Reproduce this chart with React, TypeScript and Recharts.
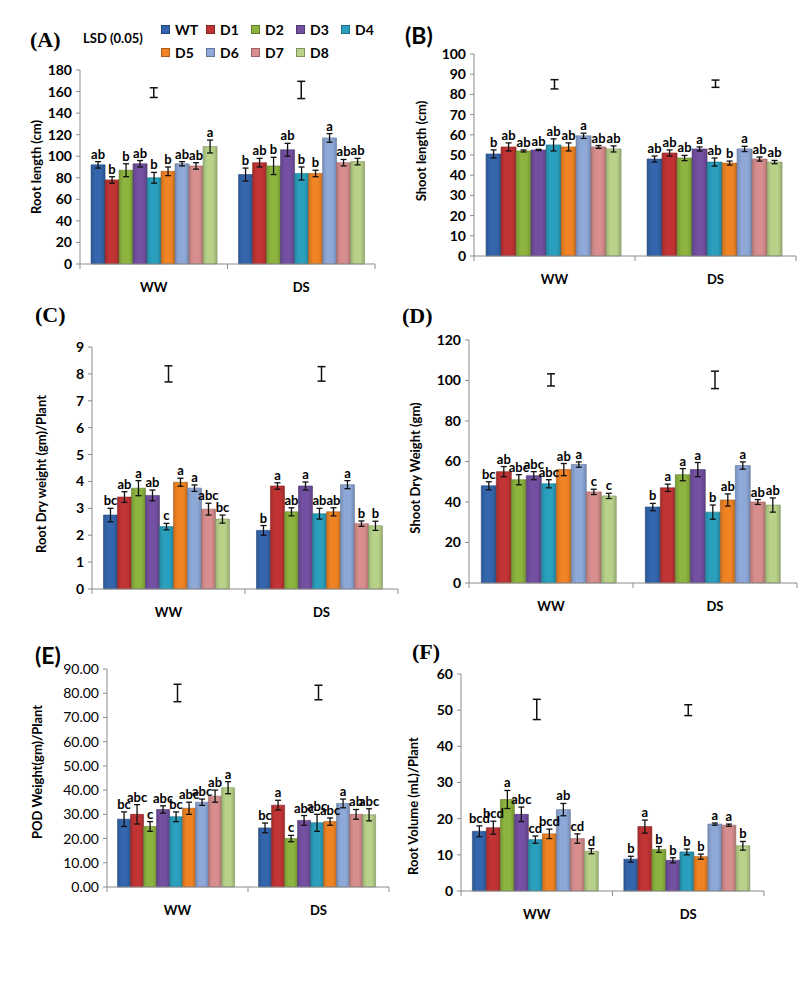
import React from 'react';
import { ComposedChart, Bar, Scatter, XAxis, YAxis, ErrorBar, LabelList, Legend } from 'recharts';

const FONT = "Lato, 'Open Sans', sans-serif";
const SERIF = "'Liberation Serif', 'Times New Roman', serif";

const groups = ['WW', 'DS'];
const series = ['WT', 'D1', 'D2', 'D3', 'D4', 'D5', 'D6', 'D7', 'D8'];
const colors = ['#3466ad', '#c23434', '#8cb43e', '#7350a2', '#2aa0be', '#f08424', '#8ea8d8', '#d88e8e', '#b8d28a'];

// (A) root length
const rootLenWW = [92, 78, 87, 93, 80, 86, 93, 91, 109];
const rootLenDS = [83, 94, 91, 106, 84, 84, 117, 94, 95];
const rootLenErrWW = [3, 3, 6, 3, 5, 4, 2, 3, 6];
const rootLenErrDS = [6, 4, 8, 6, 6, 3, 4, 3, 3];
const rootLenLetWW = ['ab', 'b', 'b', 'ab', 'b', 'b', 'ab', 'ab', 'a'];
const rootLenLetDS = ['b', 'ab', 'b', 'ab', 'b', 'b', 'a', 'ab', 'ab'];
const rootLenLsd = [159, 161.5];
const rootLenLsdErr = [4.5, 8];
const rootLenTicks = [0, 20, 40, 60, 80, 100, 120, 140, 160, 180];

// (B) shoot length
const shootLenWW = [50.5, 54, 52, 52.5, 55, 54, 59.5, 54, 53];
const shootLenDS = [48, 51, 48.5, 53, 46.5, 46, 53, 48, 46.5];
const shootLenErrWW = [2, 2, 0.5, 0.3, 3, 2, 1.3, 0.7, 1.5];
const shootLenErrDS = [1.5, 1.5, 1.3, 1, 2, 1, 1.3, 1, 0.8];
const shootLenLetWW = ['b', 'ab', 'ab', 'ab', 'ab', 'ab', 'a', 'ab', 'ab'];
const shootLenLetDS = ['ab', 'ab', 'ab', 'a', 'ab', 'b', 'a', 'ab', 'ab'];
const shootLenLsd = [85, 85.3];
const shootLenLsdErr = [2.3, 1.8];
const shootLenTicks = [0, 10, 20, 30, 40, 50, 60, 70, 80, 90, 100];

// (C) root dry weight
const rootDwWW = [2.75, 3.42, 3.75, 3.48, 2.32, 3.97, 3.75, 2.97, 2.6];
const rootDwDS = [2.18, 3.83, 2.87, 3.83, 2.8, 2.87, 3.88, 2.43, 2.35];
const rootDwErrWW = [0.25, 0.2, 0.28, 0.2, 0.12, 0.15, 0.12, 0.22, 0.15];
const rootDwErrDS = [0.18, 0.12, 0.15, 0.15, 0.2, 0.15, 0.15, 0.1, 0.17];
const rootDwLetWW = ['bc', 'ab', 'a', 'ab', 'c', 'a', 'a', 'abc', 'bc'];
const rootDwLetDS = ['b', 'a', 'ab', 'a', 'ab', 'ab', 'a', 'b', 'b'];
const rootDwLsd = [8.0, 8.0];
const rootDwLsdErr = [0.3, 0.27];
const rootDwTicks = [0, 1, 2, 3, 4, 5, 6, 7, 8, 9];

// (D) shoot dry weight
const shootDwWW = [48, 55, 51, 53, 49, 56, 58.5, 45, 43];
const shootDwDS = [37.5, 47, 53.5, 56, 35, 41, 58, 40, 38.5];
const shootDwErrWW = [2, 2.5, 2.5, 2, 2, 3, 1.3, 1.3, 1.3];
const shootDwErrDS = [1.8, 1.8, 3, 3.5, 3.5, 3, 1.8, 1.2, 3.5];
const shootDwLetWW = ['bc', 'ab', 'abc', 'abc', 'abc', 'ab', 'a', 'c', 'c'];
const shootDwLetDS = ['b', 'a', 'a', 'a', 'b', 'ab', 'a', 'ab', 'ab'];
const shootDwLsd = [100.3, 100.3];
const shootDwLsdErr = [3, 4.3];
const shootDwTicks = [0, 20, 40, 60, 80, 100, 120];

// (E) pod weight
const podWW = [28, 30, 25, 32, 29, 32.5, 35, 37.5, 41];
const podDS = [24.4, 33.8, 20, 27.5, 26.5, 27, 34.5, 30, 29.8];
const podErrWW = [3, 4, 2, 1.5, 2, 2.5, 1.3, 2.5, 2.5];
const podErrDS = [2, 2, 1.3, 2, 3.5, 1.5, 1.8, 2, 2.5];
const podLetWW = ['bc', 'abc', 'c', 'abc', 'bc', 'abc', 'abc', 'ab', 'a'];
const podLetDS = ['bc', 'a', 'c', 'abc', 'abc', 'abc', 'a', 'ab', 'abc'];
const podLsd = [80.1, 80.3];
const podLsdErr = [3.6, 3];
const podTicks = [0, 10, 20, 30, 40, 50, 60, 70, 80, 90];

// (F) root volume
const rootVolWW = [16.5, 17.5, 25.3, 21.2, 14.2, 15.8, 22.5, 14.5, 11];
const rootVolDS = [8.8, 17.8, 11.5, 8.5, 10.8, 9.5, 18.5, 18.2, 12.5];
const rootVolErrWW = [1.5, 1.8, 2.5, 2, 1, 1.3, 1.7, 1.3, 0.7];
const rootVolErrDS = [0.8, 1.8, 0.8, 0.7, 0.8, 0.7, 0.3, 0.3, 1.2];
const rootVolLetWW = ['bcd', 'bcd', 'a', 'abc', 'cd', 'bcd', 'ab', 'cd', 'd'];
const rootVolLetDS = ['b', 'a', 'b', 'b', 'b', 'b', 'a', 'a', 'b'];
const rootVolLsd = [50.2, 50];
const rootVolLsdErr = [2.8, 1.5];
const rootVolTicks = [0, 10, 20, 30, 40, 50, 60];

function buildRows(vals, errs, lets, lsd, lsdErr) {
  return groups.map((g, gi) => {
    const row: any = { group: g, lsd: lsd[gi], lsdErr: lsdErr[gi] };
    series.forEach((s, i) => {
      row[s] = vals[gi][i];
      row[s + '_e'] = errs[gi][i];
      row[s + '_l'] = lets[gi][i];
    });
    return row;
  });
}

function shade(hex, f) {
  const n = parseInt(hex.slice(1), 16);
  const r = Math.round(((n >> 16) & 255) * f);
  const g = Math.round(((n >> 8) & 255) * f);
  const b = Math.round((n & 255) * f);
  return `rgb(${r},${g},${b})`;
}

const XTick = (props: any) => {
  const { x, y, payload, index, half } = props;
  return (
    <g>
      <line x1={x + half} x2={x + half} y1={y} y2={y + 5} stroke="#8c8c8c" />
      {index === 0 && <line x1={x - half} x2={x - half} y1={y} y2={y + 5} stroke="#8c8c8c" />}
      <text x={x} y={y + 28} textAnchor="middle" fontFamily={FONT} fontWeight="bold" fontSize={13} fill="#000">
        {payload.value}
      </text>
    </g>
  );
};

const LegendBox = () => (
  <div style={{ display: 'grid', gridTemplateColumns: 'repeat(5, 45px)', rowGap: 7, fontFamily: FONT, fontWeight: 'bold', fontSize: 14 }}>
    {series.map((s, i) => (
      <div key={s} style={{ display: 'flex', alignItems: 'center', height: 16 }}>
        <span style={{ display: 'inline-block', width: 7, height: 7, background: colors[i], marginRight: 5, border: '0.5px solid rgba(0,0,0,0.3)' }} />
        {s}
      </div>
    ))}
  </div>
);

function Panel({ cfg }: any) {
  const { left, top, plotL, plotR, plotT, plotB, yMax, ticks, fmt, tickWeight, yTitle, tx, ty, rows, legend } = cfg;
  const yW = plotL - left;
  const mt = plotT - top;
  const plotW = plotR - plotL;
  const plotH = plotB - plotT;
  const width = yW + plotW + 4;
  const height = mt + plotH + 40;
  const k = plotH / yMax;

  const letter = (s) => (p: any) => {
    const vb = p.viewBox || p;
    const row = rows[p.index] || rows[0];
    const err = row[s + '_e'] || 0;
    return (
      <text x={vb.x + vb.width / 2} y={vb.y - err * k - 3} textAnchor="middle" fontFamily={FONT} fontWeight="bold" fontSize={13} fill="#000">
        {p.value}
      </text>
    );
  };

  return (
    <div style={{ position: 'absolute', left, top }}>
      <ComposedChart width={width} height={height} data={rows} margin={{ top: mt, right: 4, left: 0, bottom: 0 }} barCategoryGap="7.5%" barGap={0}>
        <XAxis dataKey="group" height={40} tickSize={0} tickMargin={0} interval={0} axisLine={{ stroke: '#8c8c8c' }} tick={<XTick half={plotW / 4} />} />
        <YAxis
          type="number"
          width={yW}
          domain={[0, yMax]}
          ticks={ticks}
          interval={0}
          tickFormatter={fmt}
          tickSize={4}
          tickMargin={4}
          axisLine={{ stroke: '#8c8c8c' }}
          tickLine={{ stroke: '#8c8c8c' }}
          tick={{ fill: '#000', fontSize: 14, fontWeight: tickWeight, fontFamily: FONT }}
          label={{
            content: () => (
              <text x={tx - left} y={ty - top} transform={`rotate(-90 ${tx - left} ${ty - top})`} textAnchor="middle" dominantBaseline="middle" fontFamily={FONT} fontWeight="bold" fontSize={13} fill="#000">
                {yTitle}
              </text>
            ),
          }}
        />
        {series.map((s, i) => (
          <Bar key={s} dataKey={s} name={s} fill={`url(#bar${i})`} stroke={shade(colors[i], 0.7)} strokeWidth={0.6} isAnimationActive={false}>
            <ErrorBar dataKey={s + '_e'} direction="y" width={3} stroke="#111" strokeWidth={1.3} />
            <LabelList dataKey={s + '_l'} content={letter(s)} />
          </Bar>
        ))}
        <Scatter dataKey="lsd" legendType="none" isAnimationActive={false} shape={() => <g />}>
          <ErrorBar dataKey="lsdErr" direction="y" width={4} stroke="#111" strokeWidth={1.5} />
        </Scatter>
        {legend && (
          <Legend layout="horizontal" verticalAlign="middle" align="center" width={230} content={<LegendBox />} wrapperStyle={{ top: 21, left: 151 }} />
        )}
      </ComposedChart>
    </div>
  );
}

const panels = [
  { left: 10, top: 0, plotL: 80, plotR: 375, plotT: 70, plotB: 264, yMax: 180, ticks: rootLenTicks, tickWeight: 'bold', yTitle: 'Root  length (cm)', tx: 38, ty: 167, rows: buildRows([rootLenWW, rootLenDS], [rootLenErrWW, rootLenErrDS], [rootLenLetWW, rootLenLetDS], rootLenLsd, rootLenLsdErr), legend: true },
  { left: 402, top: 0, plotL: 474, plotR: 796, plotT: 54, plotB: 256, yMax: 100, ticks: shootLenTicks, tickWeight: 'bold', yTitle: 'Shoot length (cm)', tx: 423, ty: 151, rows: buildRows([shootLenWW, shootLenDS], [shootLenErrWW, shootLenErrDS], [shootLenLetWW, shootLenLetDS], shootLenLsd, shootLenLsdErr) },
  { left: 10, top: 320, plotL: 92, plotR: 398, plotT: 347, plotB: 589, yMax: 9, ticks: rootDwTicks, tickWeight: 'bold', yTitle: 'Root Dry weight (gm)/Plant', tx: 43, ty: 474, rows: buildRows([rootDwWW, rootDwDS], [rootDwErrWW, rootDwErrDS], [rootDwLetWW, rootDwLetDS], rootDwLsd, rootDwLsdErr) },
  { left: 402, top: 320, plotL: 469, plotR: 797, plotT: 340, plotB: 583, yMax: 120, ticks: shootDwTicks, tickWeight: 'bold', yTitle: 'Shoot Dry Weight (gm)', tx: 417, ty: 468, rows: buildRows([shootDwWW, shootDwDS], [shootDwErrWW, shootDwErrDS], [shootDwLetWW, shootDwLetDS], shootDwLsd, shootDwLsdErr) },
  { left: 10, top: 640, plotL: 107, plotR: 389, plotT: 669, plotB: 887, yMax: 90, ticks: podTicks, fmt: (v) => v.toFixed(2), tickWeight: 'normal', yTitle: 'POD Weight(gm)/Plant', tx: 39, ty: 772, rows: buildRows([podWW, podDS], [podErrWW, podErrDS], [podLetWW, podLetDS], podLsd, podLsdErr) },
  { left: 402, top: 640, plotL: 461, plotR: 764, plotT: 674, plotB: 891, yMax: 60, ticks: rootVolTicks, tickWeight: 'bold', yTitle: 'Root Volume (mL)/Plant', tx: 415, ty: 806, rows: buildRows([rootVolWW, rootVolDS], [rootVolErrWW, rootVolErrDS], [rootVolLetWW, rootVolLetDS], rootVolLsd, rootVolLsdErr) },
];

const titles = [
  { text: '(A)', x: 30, y: 40, serif: true },
  { text: '(B)', x: 405, y: 35, serif: false },
  { text: '(C)', x: 35, y: 315, serif: true },
  { text: '(D)', x: 402, y: 316, serif: true },
  { text: '(E)', x: 35, y: 655, serif: false },
  { text: '(F)', x: 412, y: 652, serif: true },
];

export default function App() {
  return (
    <div style={{ position: 'absolute', left: 0, top: 0, width: 800, height: 986, background: '#fff', overflow: 'hidden' }}>
      <svg width={0} height={0} style={{ position: 'absolute' }}>
        <defs>
          {colors.map((c, i) => (
            <linearGradient key={i} id={`bar${i}`} x1="0" y1="0" x2="1" y2="0">
              <stop offset="0%" stopColor={shade(c, 0.85)} />
              <stop offset="30%" stopColor={c} />
              <stop offset="70%" stopColor={c} />
              <stop offset="100%" stopColor={shade(c, 0.82)} />
            </linearGradient>
          ))}
        </defs>
      </svg>
      {panels.map((p, i) => (
        <Panel key={i} cfg={p} />
      ))}
      {titles.map((t) => (
        <div
          key={t.text}
          style={{
            position: 'absolute',
            left: t.x,
            top: t.y - 14,
            height: 28,
            lineHeight: '28px',
            fontFamily: t.serif ? SERIF : FONT,
            fontWeight: 'bold',
            fontSize: t.serif ? 22 : 23,
          }}
        >
          {t.text}
        </div>
      ))}
      <div style={{ position: 'absolute', left: 83, top: 29, fontFamily: FONT, fontWeight: 'bold', fontSize: 13, lineHeight: '18px' }}>
        LSD (0.05)
      </div>
    </div>
  );
}
